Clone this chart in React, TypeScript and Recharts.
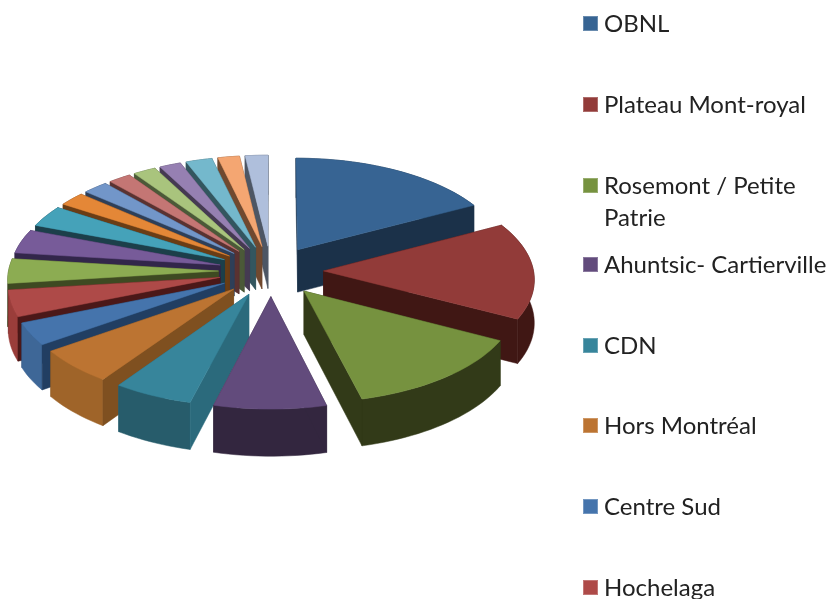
import React from "react";
import { PieChart, Pie, Legend } from "recharts";

// Slice names: the reference legend only shows the first eight; the rest run off the page.
const names = [
  "OBNL", "Plateau Mont-royal", "Rosemont / Petite Patrie", "Ahuntsic- Cartierville",
  "CDN", "Hors Montréal", "Centre Sud", "Hochelaga",
  "Slice 9", "Slice 10", "Slice 11", "Slice 12", "Slice 13", "Slice 14",
  "Slice 15", "Slice 16", "Slice 17", "Slice 18", "Slice 19",
];
const values = [17.2, 15.4, 13.4, 7.9, 5.6, 5.6, 3.6, 4.2, 3.9, 3.8, 3.4, 2.2, 2.1, 1.9, 1.9, 1.8, 2.2, 1.8, 1.9];

const topColors = [
  "#376493", "#923b39", "#76923f", "#624b7c", "#37859b", "#bc7432", "#4574ac", "#ae4a48", "#8cac52",
  "#775b99", "#45a2b9", "#e48737", "#7296c9", "#c47674", "#a9c47d", "#9680b2", "#74b8cc", "#f4a672", "#afbfdc",
];
const rimColors = [
  "#1b3149", "#401714", "#323a18", "#33263f", "#275c6b", "#9f6429", "#3e6797", "#9a3d3a", "#3e4a22",
  "#32264a", "#1c3f4a", "#6a3d15", "#2e3f58", "#5a3231", "#4b5938", "#453a52", "#33565f", "#70492f", "#4d5664",
];
const wallColors = [
  "#1b3149", "#401714", "#323a18", "#33263f", "#2b6a7c", "#7f5020", "#213e62", "#4b1818", "#3e4a22",
  "#32264a", "#1c3f4a", "#6a3d15", "#2e3f58", "#5a3231", "#4b5938", "#453a52", "#33565f", "#70492f", "#4d5664",
];

// Legend rows visible in the page
const legendCount = 8;
const legendCentres = [23, 104, 185, 264, 345, 425, 506, 587];
const wrappedRow = 2;

const slices = names.map((name, i) => ({ name, value: values[i], idx: i }));
const total = values.reduce((a, b) => a + b, 0);
const frontCount = 4;
const front = slices.slice(0, frontCount);
const back = slices.slice(frontCount).reverse();
const sum = (l: { value: number }[]) => l.reduce((a, s) => a + s.value, 0);

// 3D projection settings
const EXPLODE = 0.25;
const PERSP = 0.07;
const SQUASH = 0.48;
const DEPTH = 43;

function Slice3D(props: any) {
  const { cx, cy, outerRadius, startAngle, endAngle, payload } = props;
  const idx = payload?.idx ?? props.idx;
  const rad = Math.PI / 180;
  const mid = ((startAngle + endAngle) / 2) * rad;
  const ox = EXPLODE * Math.cos(mid);
  const oy = -EXPLODE * Math.sin(mid);
  const proj = (px: number, py: number, down: boolean) => {
    const s = 1 / (1 - PERSP * py);
    return [
      cx + outerRadius * px * s,
      cy + outerRadius * SQUASH * py * s + (down ? DEPTH * s : 0),
    ];
  };
  const arc = (a: number, down: boolean) =>
    proj(ox + Math.cos(a * rad), oy - Math.sin(a * rad), down);
  const steps = Math.max(6, Math.ceil(Math.abs(endAngle - startAngle) / 2));
  const angles = Array.from({ length: steps + 1 }, (_, i) => startAngle + ((endAngle - startAngle) * i) / steps);
  const pts = (l: number[][]) => l.map((p) => `${p[0].toFixed(2)},${p[1].toFixed(2)}`).join(" ");
  const apexT = proj(ox, oy, false);
  const apexB = proj(ox, oy, true);
  const topPts = [apexT, ...angles.map((a) => arc(a, false))];
  const rimPts = [...angles.map((a) => arc(a, false)), ...angles.slice().reverse().map((a) => arc(a, true))];
  const wall = (a: number) => [apexT, arc(a, false), arc(a, true), apexB];
  const wallsByDepth = [startAngle, endAngle].sort(
    (a, b) => arc(a, false)[1] - arc(b, false)[1],
  );
  const wc = wallColors[idx];
  return (
    <g>
      <polygon points={pts(wall(wallsByDepth[0]))} fill={wc} stroke={wc} strokeWidth={0.5} />
      <polygon points={pts(rimPts)} fill={rimColors[idx]} stroke={rimColors[idx]} strokeWidth={0.5} />
      <polygon points={pts(wall(wallsByDepth[1]))} fill={wc} stroke={wc} strokeWidth={0.5} />
      <polygon points={pts(topPts)} fill={topColors[idx]} stroke={topColors[idx]} strokeWidth={0.5} />
    </g>
  );
}

const renderShape = (p: any) => <Slice3D {...p} />;

function LegendBox() {
  return (
    <div style={{ position: "relative", width: 833, height: 599 }}>
      {names.slice(0, legendCount).map((n, i) => {
        const lh = i === wrappedRow ? 32 : 24;
        return (
          <React.Fragment key={n}>
            <div
              style={{
                position: "absolute",
                left: 583,
                top: legendCentres[i] - 7.5,
                width: 15,
                height: 15,
                background: topColors[i],
                boxSizing: "border-box",
                border: "1px solid rgba(255,255,255,0.25)",
              }}
            />
            <div
              style={{
                position: "absolute",
                left: 604,
                top: legendCentres[i] - lh / 2,
                width: 228,
                paddingRight: i === wrappedRow ? 20 : 0,
                boxSizing: "border-box",
                fontFamily: "Lato, 'Open Sans', sans-serif",
                fontSize: 24,
                lineHeight: `${lh}px`,
                color: "#222",
              }}
            >
              {n}
            </div>
          </React.Fragment>
        );
      })}
    </div>
  );
}

export default function App() {
  return (
    <div
      style={{
        position: "absolute",
        left: 0,
        top: 0,
        width: 833,
        height: 599,
        overflow: "hidden",
        background: "#fff",
        filter: "blur(0.5px)",
      }}
    >
      <PieChart width={833} height={599} margin={{ top: 0, right: 0, bottom: 0, left: 0 }}>
        <Pie
          data={back}
          dataKey="value"
          nameKey="name"
          cx={271}
          cy={271}
          innerRadius={0}
          outerRadius={210}
          startAngle={90}
          endAngle={90 + (sum(back) / total) * 360}
          stroke="none"
          shape={renderShape}
          isAnimationActive={false}
        />
        <Pie
          data={front}
          dataKey="value"
          nameKey="name"
          cx={271}
          cy={271}
          innerRadius={0}
          outerRadius={210}
          startAngle={90}
          endAngle={90 - (sum(front) / total) * 360}
          stroke="none"
          shape={renderShape}
          isAnimationActive={false}
        />
        <Legend
          layout="vertical"
          align="right"
          verticalAlign="top"
          content={() => <LegendBox />}
          wrapperStyle={{ position: "absolute", left: 0, top: 0, width: 833, height: 599, pointerEvents: "none" }}
        />
      </PieChart>
    </div>
  );
}
